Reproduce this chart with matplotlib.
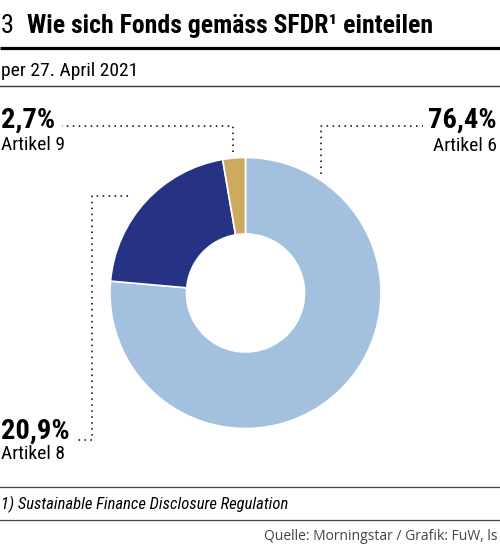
import numpy as np
import matplotlib.pyplot as plt

# data
labels = ["Artikel 6", "Artikel 8", "Artikel 9"]
values = [76.4, 20.9, 2.7]
value_text = ["76,4%", "20,9%", "2,7%"]
colors = ["#a3c1de", "#263385", "#cdab5e"]

W, H = 500, 545
cond = ["Liberation Sans Narrow", "Roboto Condensed", "Roboto"]

fig = plt.figure(figsize=(W / 100, H / 100), dpi=100)

# donut, centre (245.5, 293) px, radius 135.5 px
cx, cy, r = 245.5, 293, 135.5
ax_pie = fig.add_axes([(cx - r) / W, (H - cy - r) / H, 2 * r / W, 2 * r / H])
ax_pie.pie(values, colors=colors, startangle=90, counterclock=False, radius=1,
           wedgeprops=dict(width=1 - 59 / 135.5, edgecolor="white", linewidth=1.2))
ax_pie.set_xlim(-1, 1)
ax_pie.set_ylim(-1, 1)
ax_pie.set_axis_off()

# overlay in pixel coordinates
ax = fig.add_axes([0, 0, 1, 1])
ax.set_xlim(0, W)
ax.set_ylim(H, 0)
ax.set_axis_off()

# title block
ax.text(1, 33, "3", fontsize=19, family=cond, va="baseline")
ax.text(27, 33, "Wie sich Fonds gemäss SFDR¹ einteilen", fontsize=18.5,
        fontweight="bold", family=cond, va="baseline")
ax.plot([0, W], [47.5, 47.5], color="black", lw=2.3, solid_capstyle="butt")
ax.text(1, 76, "per 27. April 2021", fontsize=14, family=cond, va="baseline")
ax.plot([0, W], [85.5, 85.5], color="#333333", lw=1.0)

# leader lines
dots = dict(color="black", lw=1.1, linestyle=(0, (1, 2.9)))
ax.plot([321, 321, 423], [174, 126, 126], **dots)
ax.plot([233, 233, 62], [152, 126, 126], **dots)
ax.plot([128, 92, 92, 74], [196, 196, 440, 440], **dots)

# labels
big = dict(fontsize=20.5, fontweight="bold", family=cond, va="baseline")
small = dict(fontsize=14, family=cond, va="baseline")
ax.text(497, 128, value_text[0], ha="right", **big)
ax.text(497, 151, labels[0], ha="right", **small)
ax.text(1, 128, value_text[2], ha="left", **big)
ax.text(1, 150, labels[2], ha="left", **small)
ax.text(1, 439, value_text[1], ha="left", **big)
ax.text(1, 459, labels[1], ha="left", **small)

# footer
ax.plot([0, W], [487, 487], color="#444444", lw=0.9)
ax.text(1, 509, "1) Sustainable Finance Disclosure Regulation", fontsize=12,
        style="italic", family=cond, va="baseline")
ax.plot([0, W], [520, 520], color="#444444", lw=0.9)
ax.text(498, 540, "Quelle: Morningstar / Grafik: FuW, ls", fontsize=10, ha="right",
        family=["Open Sans", "DejaVu Sans"], color="#444444", va="baseline")

fig.savefig("out.png", dpi=100)
